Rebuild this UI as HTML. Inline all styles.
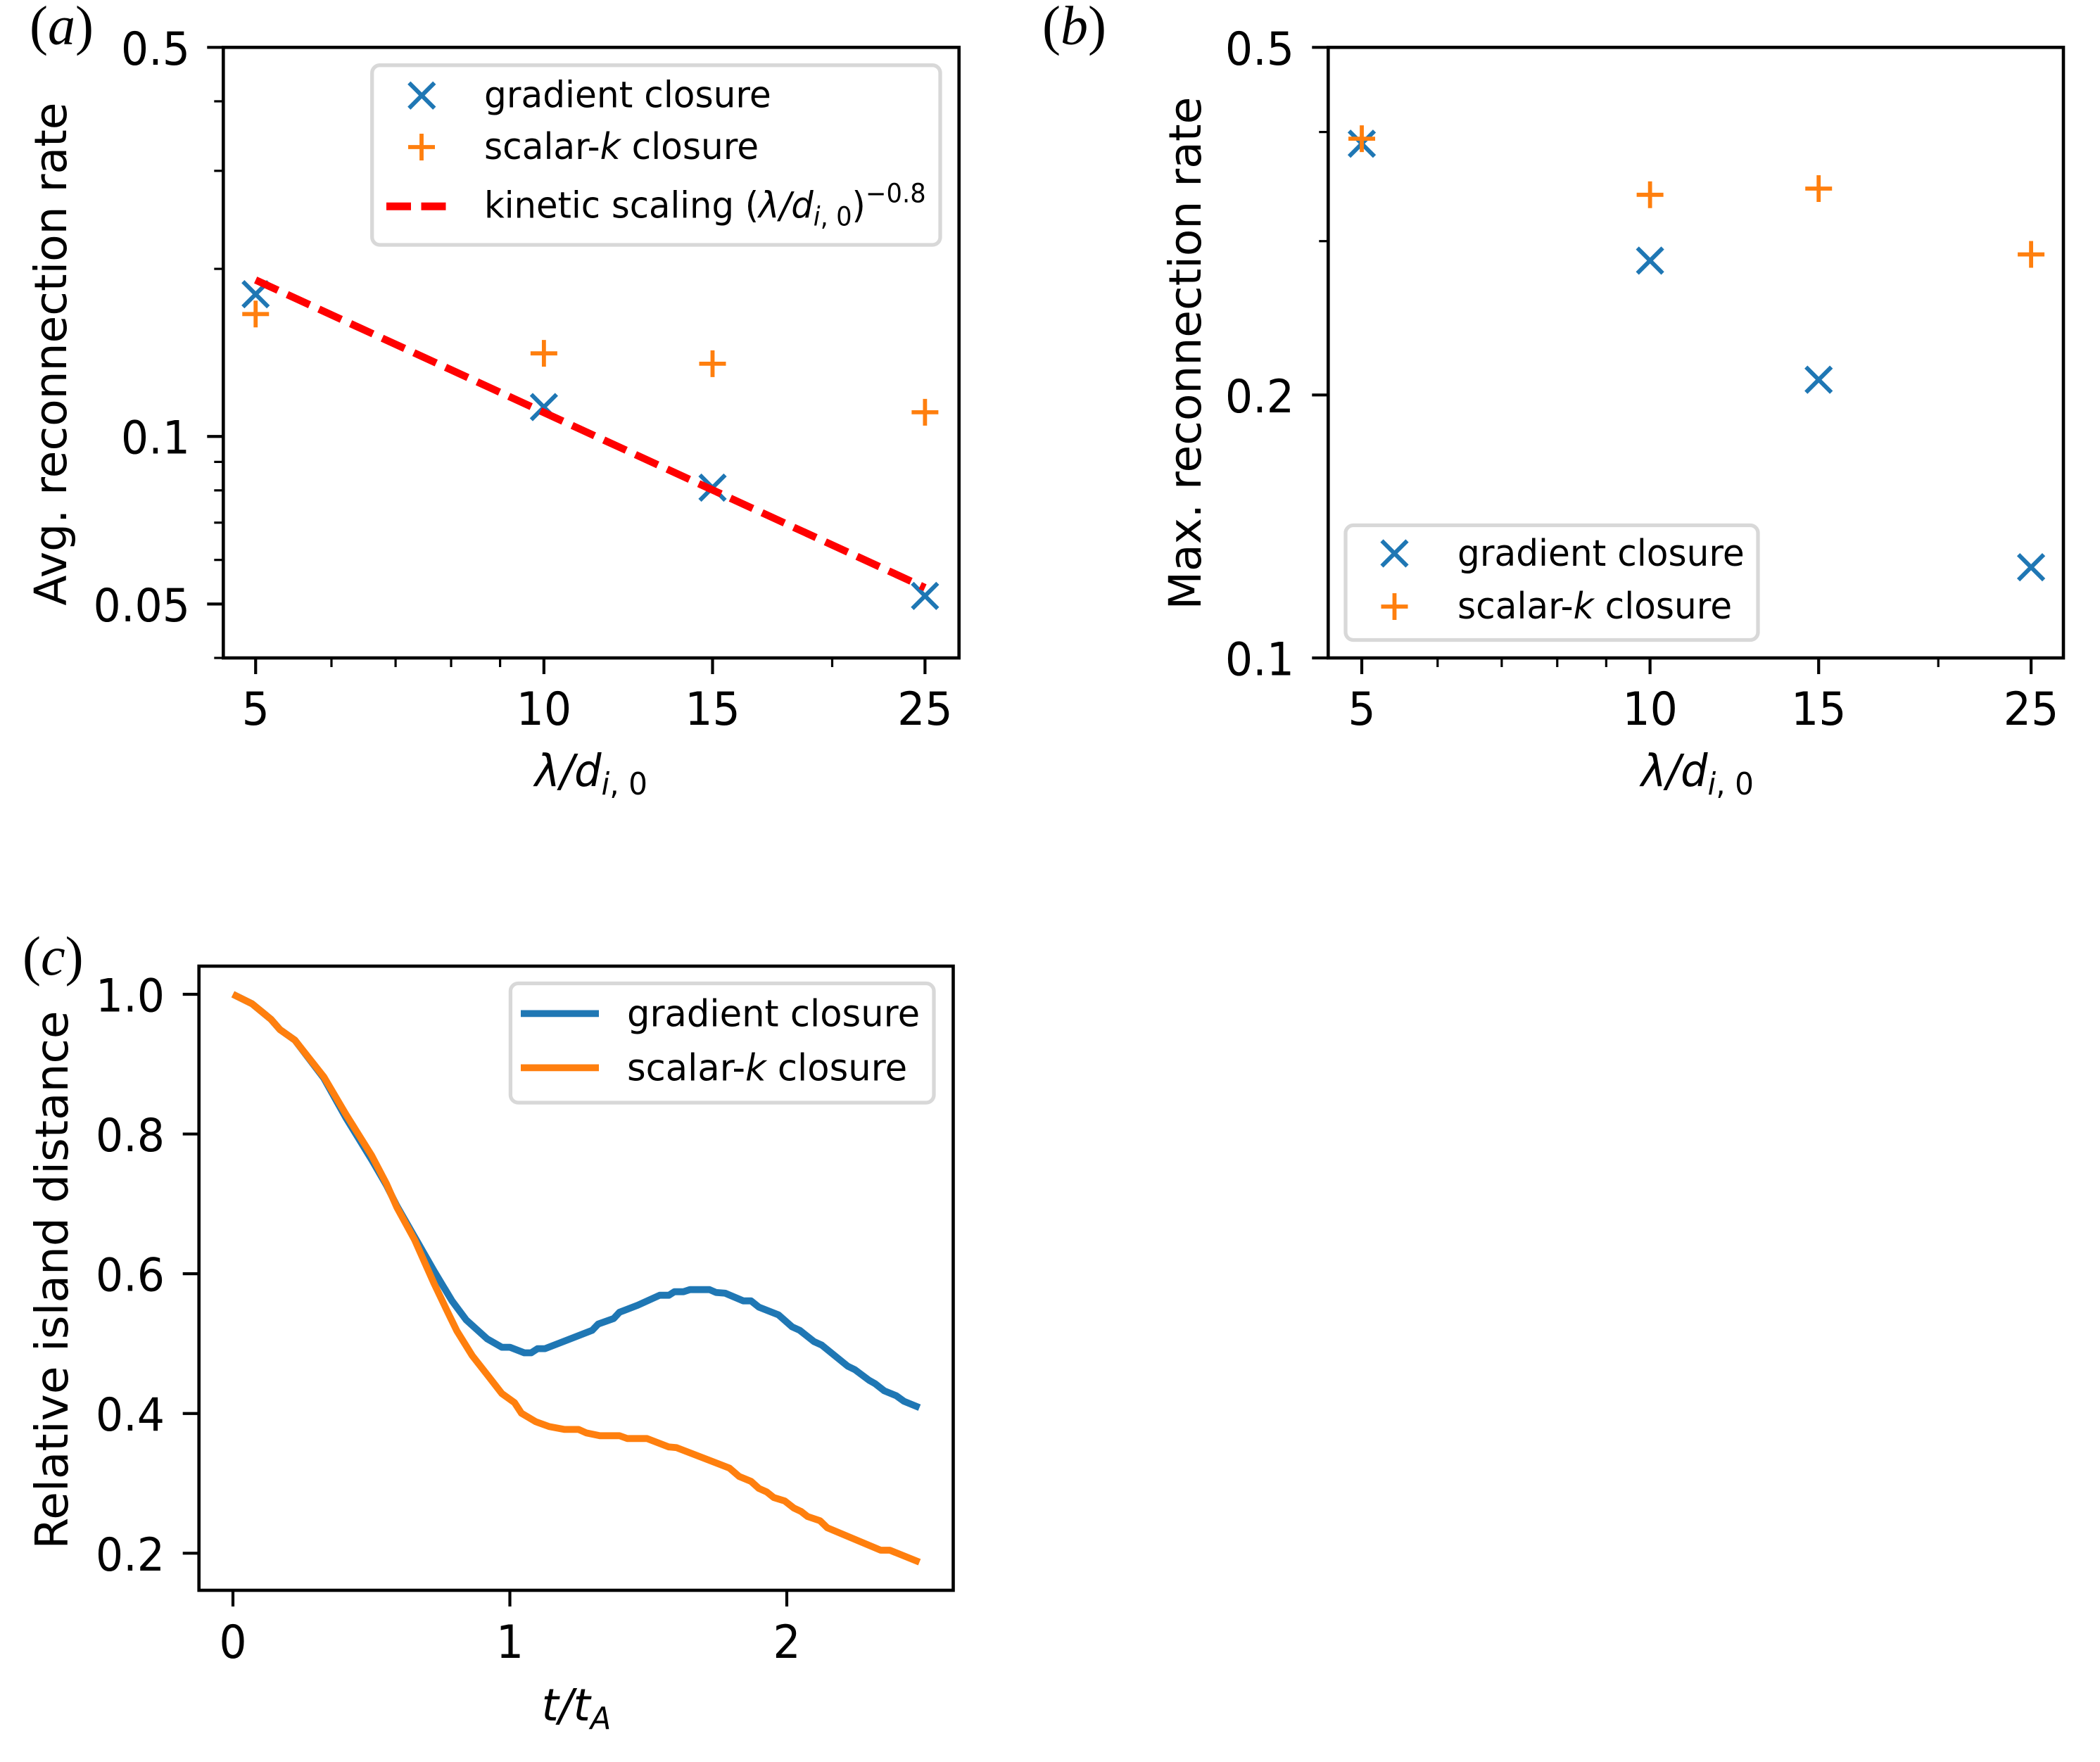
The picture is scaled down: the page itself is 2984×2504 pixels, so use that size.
<!DOCTYPE html>
<html lang="en">
<head>
<meta charset="utf-8">
<title>Reconnection rate and island distance</title>
<style>
html,body{margin:0;padding:0;background:#fff;}
svg{display:block;}
text{font-family:"DejaVu Sans","Liberation Sans",sans-serif;fill:#000;}
.panel-label{font-family:"Liberation Serif",serif;font-size:78px;}
.panel-label .it{font-style:italic;}
.it{font-style:italic;}
.frame{fill:none;stroke:#000;stroke-width:4.6;}
.legend-box{fill:#fff;fill-opacity:.9;stroke:#d8d8d8;stroke-width:5.3;}
</style>
</head>
<body>
<svg id="figure" xmlns="http://www.w3.org/2000/svg" width="2984" height="2504" viewBox="0 0 2984 2504">
<rect x="0" y="0" width="2984" height="2504" fill="#fff"></rect>

<text class="panel-label" x="42" y="62.5">(<tspan class="it">a</tspan>)</text>
<text class="panel-label" x="1481" y="62.5">(<tspan class="it">b</tspan>)</text>
<text class="panel-label" x="32" y="1385">(<tspan class="it">c</tspan>)</text>

<g id="panel-a">
  <g id="marks-a"></g>
  <rect class="frame" x="317.3" y="67.3" width="1045.4" height="867.7"></rect>
  <g id="axes-a"></g>
  <text font-size="63" text-anchor="middle" transform="translate(94,503)rotate(-90)">Avg. reconnection rate</text>
  <text font-size="63" text-anchor="middle" transform="translate(840,1117) scale(.96,1)"><tspan class="it">λ/d</tspan><tspan class="it" font-size="44" dy="12">i</tspan><tspan font-size="44">, 0</tspan></text>
  <g>
    <rect class="legend-box" x="528.7" y="92.7" width="807.3" height="255.3" rx="11"></rect>
    <g stroke="#1f77b4" stroke-width="6" fill="none"><path d="M581.3 117.7L617.3 153.7M581.3 153.7L617.3 117.7"></path></g>
    <g stroke="#ff7f0e" stroke-width="5.8" fill="none"><path d="M580 209H618M599 190V228"></path></g>
    <line x1="549" y1="293.3" x2="635" y2="293.3" stroke="#ff0000" stroke-width="11" stroke-dasharray="35 14.5"></line>
    <text font-size="52" transform="translate(688,152.7) scale(.965,1)">gradient closure</text>
    <text font-size="52" transform="translate(688,226) scale(.965,1)">scalar-<tspan class="it">k</tspan> closure</text>
    <text font-size="52" transform="translate(688,309.3) scale(.955,1)">kinetic scaling (<tspan class="it">λ/d</tspan><tspan class="it" font-size="37" dy="11">i</tspan><tspan font-size="37">, 0</tspan><tspan dy="-11">)</tspan><tspan font-size="37" dy="-22">−0.8</tspan></text>
  </g>
</g>

<g id="panel-b">
  <g id="marks-b"></g>
  <rect class="frame" x="1887.3" y="67.3" width="1044.7" height="867.7"></rect>
  <g id="axes-b"></g>
  <text font-size="63" text-anchor="middle" transform="translate(1706,502)rotate(-90)">Max. reconnection rate</text>
  <text font-size="63" text-anchor="middle" transform="translate(2412,1117) scale(.96,1)"><tspan class="it">λ/d</tspan><tspan class="it" font-size="44" dy="12">i</tspan><tspan font-size="44">, 0</tspan></text>
  <g>
    <rect class="legend-box" x="1912" y="746.5" width="586" height="163" rx="11"></rect>
    <g stroke="#1f77b4" stroke-width="6" fill="none"><path d="M1963.5 768.5L1999.5 804.5M1963.5 804.5L1999.5 768.5"></path></g>
    <g stroke="#ff7f0e" stroke-width="5.8" fill="none"><path d="M1962.5 862H2000.5M1981.5 843V881"></path></g>
    <text font-size="52" transform="translate(2071,804) scale(.965,1)">gradient closure</text>
    <text font-size="52" transform="translate(2071,879) scale(.965,1)">scalar-<tspan class="it">k</tspan> closure</text>
  </g>
</g>

<g id="panel-c">
  <g id="marks-c"></g>
  <rect class="frame" x="282.7" y="1373" width="1071.8" height="887"></rect>
  <g id="axes-c"></g>
  <text font-size="64.5" text-anchor="middle" transform="translate(96,1819)rotate(-90)">Relative island distance</text>
  <text font-size="63" text-anchor="middle" transform="translate(819,2445) scale(.98,1)"><tspan class="it">t/t</tspan><tspan class="it" font-size="44" dy="12">A</tspan></text>
  <g>
    <rect class="legend-box" x="725.4" y="1397.5" width="601.6" height="169.5" rx="11"></rect>
    <line x1="740" y1="1440.4" x2="851" y2="1440.4" stroke="#1f77b4" stroke-width="9.8"></line>
    <line x1="740" y1="1517.4" x2="851" y2="1517.4" stroke="#ff7f0e" stroke-width="9.8"></line>
    <text font-size="53" transform="translate(891,1458.4) scale(.966,1)">gradient closure</text>
    <text font-size="53" transform="translate(891,1535.4) scale(.966,1)">scalar-<tspan class="it">k</tspan> closure</text>
  </g>
</g>
</svg>

<script>
const wavelengths = [5, 10, 15, 25];
const avgGradient = [0.1801, 0.1129, 0.0809, 0.0517];
const avgScalar = [0.1659, 0.141, 0.1351, 0.1105];
const kineticX = [5, 25];
const kineticY = [0.191, 0.0535];
const maxGradient = [0.3878, 0.285, 0.2082, 0.127];
const maxScalar = [0.393, 0.339, 0.3446, 0.2897];

const gradientTime = [0,0.069,0.137,0.17,0.224,0.328,0.409,0.501,0.554,0.592,0.656,0.727,0.791,0.842,0.918,0.971,1.0,1.052,1.077,1.1,1.127,1.297,1.319,1.375,1.396,1.462,1.541,1.574,1.594,1.627,1.65,1.721,1.744,1.777,1.843,1.871,1.899,1.97,2.019,2.047,2.098,2.126,2.22,2.246,2.297,2.319,2.352,2.395,2.423,2.479];
const gradientDistance = [1,0.9864,0.9643,0.9493,0.9342,0.8799,0.8226,0.7633,0.727,0.6969,0.6527,0.6034,0.5612,0.5341,0.5069,0.4948,0.4948,0.4868,0.4868,0.4928,0.4928,0.519,0.528,0.536,0.545,0.555,0.5692,0.5692,0.5743,0.5743,0.5773,0.5773,0.5733,0.5723,0.5612,0.5612,0.5522,0.5411,0.524,0.519,0.503,0.4979,0.4677,0.4627,0.4476,0.4426,0.4325,0.4255,0.4174,0.4084];
const scalarTime = [0,0.069,0.137,0.17,0.224,0.328,0.409,0.501,0.554,0.592,0.656,0.727,0.773,0.809,0.864,0.918,0.971,1.017,1.042,1.093,1.142,1.198,1.248,1.276,1.325,1.396,1.424,1.495,1.574,1.602,1.793,1.828,1.871,1.899,1.927,1.953,1.993,2.026,2.052,2.075,2.12,2.146,2.339,2.372,2.479];
const scalarDistance = [1,0.9864,0.9643,0.9493,0.9342,0.8819,0.8276,0.7693,0.7291,0.6949,0.6487,0.5853,0.5471,0.518,0.4828,0.4556,0.4285,0.4154,0.4003,0.3883,0.3813,0.3772,0.3772,0.3722,0.3682,0.3682,0.3642,0.3642,0.3521,0.3511,0.3219,0.3099,0.3028,0.2928,0.2878,0.2797,0.2747,0.2646,0.2596,0.2526,0.2465,0.2365,0.2043,0.2043,0.1872];

const xMajorTicks = [5, 10, 15, 25];
const xMinorTicks = [6, 7, 8, 9, 20];
const yMajorTicksA = [0.5, 0.1, 0.05];
const yMajorLabelsA = ['0.5', '0.1', '0.05'];
const yMinorTicksA = [0.4, 0.3, 0.2, 0.09, 0.08, 0.07, 0.06, 0.04];
const yMajorTicksB = [0.5, 0.2, 0.1];
const yMajorLabelsB = ['0.5', '0.2', '0.1'];
const yMinorTicksB = [0.4, 0.3];
const xTicksC = [0, 1, 2];
const yTicksC = [1.0, 0.8, 0.6, 0.4, 0.2];
const yLabelsC = ['1.0', '0.8', '0.6', '0.4', '0.2'];

const SVGNS = 'http://www.w3.org/2000/svg';
function make(tag, parent, attrs) {
  const el = document.createElementNS(SVGNS, tag);
  for (const k in attrs) el.setAttribute(k, attrs[k]);
  parent.appendChild(el);
  return el;
}
function logScale(dMin, dMax, pMin, pMax) {
  const a = Math.log10(dMin), b = Math.log10(dMax);
  return v => pMin + (Math.log10(v) - a) / (b - a) * (pMax - pMin);
}
function linScale(dMin, dMax, pMin, pMax) {
  return v => pMin + (v - dMin) / (dMax - dMin) * (pMax - pMin);
}

const xA = logScale(4.626, 27.13, 317.3, 1362.7);
const yA = logScale(0.04, 0.5, 935, 67.3);
const xB = logScale(4.612, 27.02, 1887.3, 2932);
const yB = logScale(0.1, 0.5, 935, 67.3);
const xC = linScale(0, 2, 331, 1118);
const yC = linScale(0.2, 1.0, 2207.3, 1413);

function drawCrosses(group, xs, ys, sx, sy) {
  xs.forEach((x, i) => {
    const cx = sx(x), cy = sy(ys[i]), r = 18;
    const el = make('path', group, {d: `M${cx-r} ${cy-r}L${cx+r} ${cy+r}M${cx-r} ${cy+r}L${cx+r} ${cy-r}`, stroke: '#1f77b4', 'stroke-width': 6, fill: 'none'});
    
    
  });
}
function drawPluses(group, xs, ys, sx, sy) {
  xs.forEach((x, i) => {
    const cx = sx(x), cy = sy(ys[i]), r = 19;
    const el = make('path', group, {d: `M${cx-r} ${cy}H${cx+r}M${cx} ${cy-r}V${cy+r}`, stroke: '#ff7f0e', 'stroke-width': 5.8, fill: 'none'});
    
    
  });
}
function pointsOf(xs, ys, sx, sy) {
  return xs.map((x, i) => sx(x).toFixed(1) + ',' + sy(ys[i]).toFixed(1)).join(' ');
}
function drawXTicks(group, ticks, labels, sx, yBase, len, width, labelY) {
  ticks.forEach((t, i) => {
    const px = sx(t);
    const tick = make('line', group, {x1: px, x2: px, y1: yBase, y2: yBase + len, stroke: '#000', 'stroke-width': width});
    
    
    if (labels) {
      const lab = make('text', group, {'font-size': 65, 'text-anchor': 'middle', transform: `translate(${px},${labelY}) scale(.95,1)`});
      lab.textContent = labels[i];
      
      
    }
  });
}
function drawYTicks(group, ticks, labels, sy, xBase, len, width, labelX) {
  ticks.forEach((t, i) => {
    const py = sy(t);
    const tick = make('line', group, {x1: xBase - len, x2: xBase, y1: py, y2: py, stroke: '#000', 'stroke-width': width});
    
    
    if (labels) {
      const lab = make('text', group, {'font-size': 65, 'text-anchor': 'end', transform: `translate(${labelX},${py + 24.5}) scale(.95,1)`});
      lab.textContent = labels[i];
      
      
    }
  });
}

/* panel a */
const marksA = document.getElementById('marks-a');
const axesA = document.getElementById('axes-a');
drawCrosses(marksA, wavelengths, avgGradient, xA, yA);
drawPluses(marksA, wavelengths, avgScalar, xA, yA);
const kinetic = make('polyline', marksA, {points: pointsOf(kineticX, kineticY, xA, yA), fill: 'none', stroke: '#ff0000', 'stroke-width': 10.5, 'stroke-dasharray': '35 14.5'});


drawXTicks(axesA, xMajorTicks, xMajorTicks.map(String), xA, 935, 23, 4.2, 1030);
drawXTicks(axesA, xMinorTicks, null, xA, 935, 13, 3.2, 0);
drawYTicks(axesA, yMajorTicksA, yMajorLabelsA, yA, 317.3, 23, 4.2, 270);
drawYTicks(axesA, yMinorTicksA, null, yA, 317.3, 13, 3.2, 0);

/* panel b */
const marksB = document.getElementById('marks-b');
const axesB = document.getElementById('axes-b');
drawCrosses(marksB, wavelengths, maxGradient, xB, yB);
drawPluses(marksB, wavelengths, maxScalar, xB, yB);
drawXTicks(axesB, xMajorTicks, xMajorTicks.map(String), xB, 935, 23, 4.2, 1030);
drawXTicks(axesB, xMinorTicks, null, xB, 935, 13, 3.2, 0);
drawYTicks(axesB, yMajorTicksB, yMajorLabelsB, yB, 1887.3, 23, 4.2, 1839);
drawYTicks(axesB, yMinorTicksB, null, yB, 1887.3, 13, 3.2, 0);

/* panel c */
const marksC = document.getElementById('marks-c');
const axesC = document.getElementById('axes-c');
const gradientLine = make('polyline', marksC, {points: pointsOf(gradientTime, gradientDistance, xC, yC), fill: 'none', stroke: '#1f77b4', 'stroke-width': 9.8, 'stroke-linejoin': 'round'});


const scalarLine = make('polyline', marksC, {points: pointsOf(scalarTime, scalarDistance, xC, yC), fill: 'none', stroke: '#ff7f0e', 'stroke-width': 9.8, 'stroke-linejoin': 'round'});


drawXTicks(axesC, xTicksC, xTicksC.map(String), xC, 2260, 23, 4.2, 2356);
drawYTicks(axesC, yTicksC, yLabelsC, yC, 282.7, 23, 4.2, 234);
</script>
</body>
</html>
